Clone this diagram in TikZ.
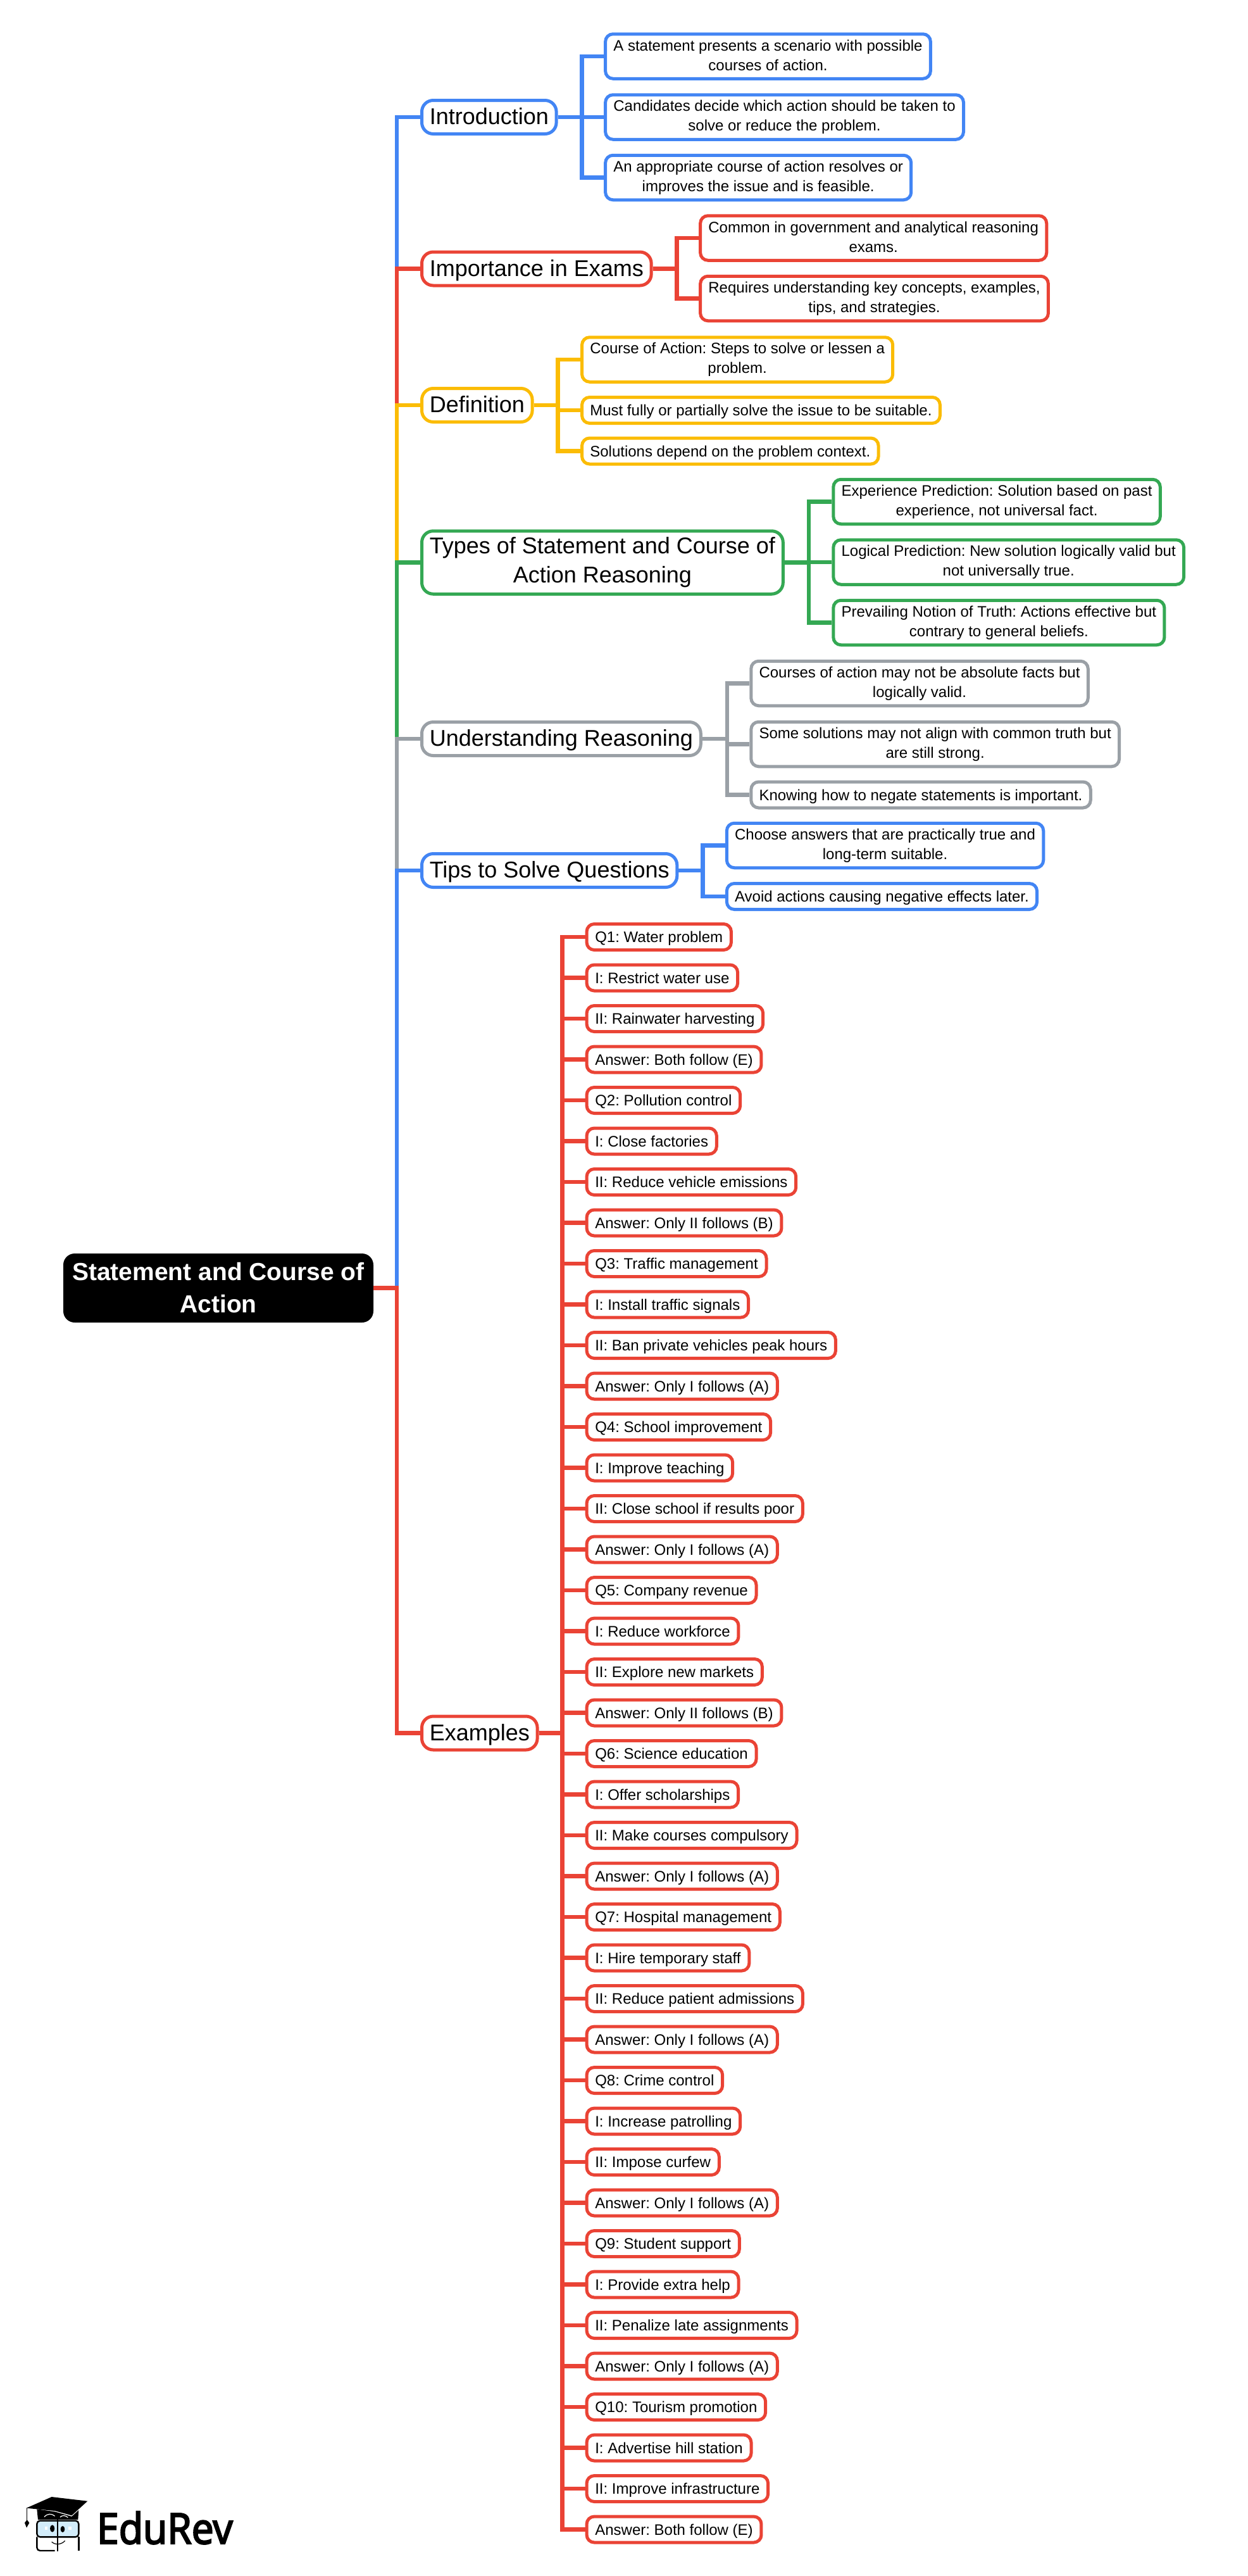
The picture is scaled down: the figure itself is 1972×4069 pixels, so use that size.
\documentclass[tikz,border=0pt]{standalone}
\usepackage{fontspec}
\setmainfont{Liberation Sans}
\newfontfamily\logofont{Open Sans}[FakeBold=3.5]
\usetikzlibrary{positioning}
\definecolor{gblue}{HTML}{4285F4}
\definecolor{gred}{HTML}{EA4335}
\definecolor{gyellow}{HTML}{FBBC05}
\definecolor{ggreen}{HTML}{34A853}
\definecolor{ggrey}{HTML}{9AA0A6}
\definecolor{lenscol}{HTML}{D2ECFA}
\frenchspacing

\begin{document}
\begin{tikzpicture}[
        rootbox/.style={rectangle, rounded corners=18pt, fill=black, text=white, minimum width=490pt, minimum height=109pt, inner xsep=0pt, inner ysep=0pt, outer sep=0pt, align=center, font=\fontsize{39}{51}\selectfont\bfseries},
        topic/.style={rectangle, rounded corners=18pt, draw=#1, line width=5pt, fill=white, text=black, minimum height=53pt, inner xsep=12.25pt, inner ysep=0pt, align=center, font=\fontsize{36}{46}\selectfont, execute at begin node={\rule{0pt}{31pt}}, execute at end node={\rule[-8pt]{0pt}{8pt}}},
        detail/.style={rectangle, rounded corners=12pt, draw=#1, line width=5pt, fill=white, text=black, minimum height=70.5pt, inner xsep=12.75pt, inner ysep=0pt, align=center, font=\fontsize{24}{31}\selectfont, execute at begin node={\rule{0pt}{22pt}}, execute at end node={\rule[-4.2pt]{0pt}{4.2pt}}},
        single/.style={detail=#1, minimum height=41pt, execute at begin node={\rule{0pt}{20.4pt}}, execute at end node={\rule[-5pt]{0pt}{5pt}}},
        item/.style={single=gred, inner xsep=13.25pt},
        stacked/.style={below=18.5pt of #1.south west, anchor=north west},
        link/.style={line width=6.5pt, draw=#1}
    ]
        \useasboundingbox (0,0) rectangle (1972pt,-4069pt);

        % Root
        \node (root) [rootbox] at (345pt,-2034.5pt) {Statement and Course of \\ Action};

        % Level 1: Topics
        \node (intro) [topic=gblue, right=74pt of root.east, yshift=1849.5pt] {Introduction};
        \node (exams) [topic=gred, right=74pt of root.east, yshift=1610pt] {Importance in Exams};
        \node (defn) [topic=gyellow, right=74pt of root.east, yshift=1394.5pt] {Definition};
        \node (types) [topic=ggreen, minimum height=99.5pt, right=74pt of root.east, yshift=1146pt] {Types of Statement and Course of \\ Action Reasoning};
        \node (reason) [topic=ggrey, right=74pt of root.east, yshift=867.5pt] {Understanding Reasoning};
        \node (tips) [topic=gblue, right=74pt of root.east, yshift=659.5pt] {Tips to Solve Questions};
        \node (examples) [topic=gred, right=74pt of root.east, yshift=-703pt] {Examples};

        % Level 2: Details
        \node (introa) [detail=gblue, right=72.5pt of intro.east, yshift=96pt] {A statement presents a scenario with possible \\ courses of action.};
        \node (introb) [detail=gblue, right=72.5pt of intro.east] {Candidates decide which action should be taken to \\ solve or reduce the problem.};
        \node (introc) [detail=gblue, right=72.5pt of intro.east, yshift=-95.5pt] {An appropriate course of action resolves or \\ improves the issue and is feasible.};

        \node (examsa) [detail=gred, right=72.5pt of exams.east, yshift=48.5pt] {Common in government and analytical reasoning \\ exams.};
        \node (examsb) [detail=gred, right=72.5pt of exams.east, yshift=-47pt] {Requires understanding key concepts, examples, \\ tips, and strategies.};

        \node (defna) [detail=gyellow, right=73.5pt of defn.east, yshift=72pt] {Course of Action: Steps to solve or lessen a \\ problem.};
        \node (defnb) [single=gyellow, right=73.5pt of defn.east, yshift=-8pt] {Must fully or partially solve the issue to be suitable.};
        \node (defnc) [single=gyellow, right=73.5pt of defn.east, yshift=-72.5pt] {Solutions depend on the problem context.};

        \node (typesa) [detail=ggreen, right=74.5pt of types.east, yshift=96pt] {Experience Prediction: Solution based on past \\ experience, not universal fact.};
        \node (typesb) [detail=ggreen, right=74.5pt of types.east, yshift=0.5pt] {Logical Prediction: New solution logically valid but \\ not universally true.};
        \node (typesc) [detail=ggreen, right=74.5pt of types.east, yshift=-95pt] {Prevailing Notion of Truth: Actions effective but \\ contrary to general beliefs.};

        \node (reasona) [detail=ggrey, right=74.5pt of reason.east, yshift=87.5pt] {Courses of action may not be absolute facts but \\ logically valid.};
        \node (reasonb) [detail=ggrey, right=74.5pt of reason.east, yshift=-8.5pt] {Some solutions may not align with common truth but \\ are still strong.};
        \node (reasonc) [single=ggrey, right=74.5pt of reason.east, yshift=-88.5pt] {Knowing how to negate statements is important.};

        \node (tipsa) [detail=gblue, right=73.5pt of tips.east, yshift=39.5pt] {Choose answers that are practically true and \\ long-term suitable.};
        \node (tipsb) [single=gblue, right=73.5pt of tips.east, yshift=-41pt] {Avoid actions causing negative effects later.};

        % Level 2: Example questions
        \node (qa) [item, right=73pt of examples.east, yshift=1257.5pt] {Q1: Water problem};
        \node (qai) [item, stacked=qa] {I: Restrict water use};
        \node (qaii) [item, stacked=qai] {II: Rainwater harvesting};
        \node (qaans) [item, stacked=qaii] {Answer: Both follow (E)};
        \node (qb) [item, stacked=qaans] {Q2: Pollution control};
        \node (qbi) [item, stacked=qb] {I: Close factories};
        \node (qbii) [item, stacked=qbi] {II: Reduce vehicle emissions};
        \node (qbans) [item, stacked=qbii] {Answer: Only II follows (B)};
        \node (qc) [item, stacked=qbans] {Q3: Traffic management};
        \node (qci) [item, stacked=qc] {I: Install traffic signals};
        \node (qcii) [item, stacked=qci] {II: Ban private vehicles peak hours};
        \node (qcans) [item, stacked=qcii] {Answer: Only I follows (A)};
        \node (qd) [item, stacked=qcans] {Q4: School improvement};
        \node (qdi) [item, stacked=qd] {I: Improve teaching};
        \node (qdii) [item, stacked=qdi] {II: Close school if results poor};
        \node (qdans) [item, stacked=qdii] {Answer: Only I follows (A)};
        \node (qe) [item, stacked=qdans] {Q5: Company revenue};
        \node (qei) [item, stacked=qe] {I: Reduce workforce};
        \node (qeii) [item, stacked=qei] {II: Explore new markets};
        \node (qeans) [item, stacked=qeii] {Answer: Only II follows (B)};
        \node (qf) [item, stacked=qeans] {Q6: Science education};
        \node (qfi) [item, stacked=qf] {I: Offer scholarships};
        \node (qfii) [item, stacked=qfi] {II: Make courses compulsory};
        \node (qfans) [item, stacked=qfii] {Answer: Only I follows (A)};
        \node (qg) [item, stacked=qfans] {Q7: Hospital management};
        \node (qgi) [item, stacked=qg] {I: Hire temporary staff};
        \node (qgii) [item, stacked=qgi] {II: Reduce patient admissions};
        \node (qgans) [item, stacked=qgii] {Answer: Only I follows (A)};
        \node (qh) [item, stacked=qgans] {Q8: Crime control};
        \node (qhi) [item, stacked=qh] {I: Increase patrolling};
        \node (qhii) [item, stacked=qhi] {II: Impose curfew};
        \node (qhans) [item, stacked=qhii] {Answer: Only I follows (A)};
        \node (qi) [item, stacked=qhans] {Q9: Student support};
        \node (qii) [item, stacked=qi] {I: Provide extra help};
        \node (qiii) [item, stacked=qii] {II: Penalize late assignments};
        \node (qians) [item, stacked=qiii] {Answer: Only I follows (A)};
        \node (qj) [item, stacked=qians] {Q10: Tourism promotion};
        \node (qji) [item, stacked=qj] {I: Advertise hill station};
        \node (qjii) [item, stacked=qji] {II: Improve infrastructure};
        \node (qjans) [item, stacked=qjii] {Answer: Both follow (E)};

        % Links from root to topics
        \draw [link=gblue] (root.east) -- ++(37pt,0) |- (intro.west);
        \draw [link=gred] (root.east) -- ++(37pt,0) |- (exams.west);
        \draw [link=gyellow] (root.east) -- ++(37pt,0) |- (defn.west);
        \draw [link=ggreen] (root.east) -- ++(37pt,0) |- (types.west);
        \draw [link=ggrey] (root.east) -- ++(37pt,0) |- (reason.west);
        \draw [link=gblue] (root.east) -- ++(37pt,0) |- (tips.west);
        \draw [link=gred] (root.east) -- ++(37pt,0) |- (examples.west);

        % Links from topics to details
        \draw [link=gblue] (intro.east) -- ++(38pt,0) |- (introa.west);
        \draw [link=gblue] (intro.east) -- (introb.west);
        \draw [link=gblue] (intro.east) -- ++(38pt,0) |- (introc.west);

        \draw [link=gred] (exams.east) -- ++(38pt,0) |- (examsa.west);
        \draw [link=gred] (exams.east) -- ++(38pt,0) |- (examsb.west);

        \draw [link=gyellow] (defn.east) -- ++(38pt,0) |- (defna.west);
        \draw [link=gyellow] (defn.east) -- ++(38pt,0) |- (defnb.west);
        \draw [link=gyellow] (defn.east) -- ++(38pt,0) |- (defnc.west);

        \draw [link=ggreen] (types.east) -- ++(38pt,0) |- (typesa.west);
        \draw [link=ggreen] (types.east) -- ++(38pt,0) |- (typesb.west);
        \draw [link=ggreen] (types.east) -- ++(38pt,0) |- (typesc.west);

        \draw [link=ggrey] (reason.east) -- ++(39pt,0) |- (reasona.west);
        \draw [link=ggrey] (reason.east) -- ++(39pt,0) |- (reasonb.west);
        \draw [link=ggrey] (reason.east) -- ++(39pt,0) |- (reasonc.west);

        \draw [link=gblue] (tips.east) -- ++(38pt,0) |- (tipsa.west);
        \draw [link=gblue] (tips.east) -- ++(38pt,0) |- (tipsb.west);

        % Links from examples to questions
        \draw [link=gred] (examples.east) -- ++(37pt,0) |- (qa.west);
        \draw [link=gred] (examples.east) -- ++(37pt,0) |- (qai.west);
        \draw [link=gred] (examples.east) -- ++(37pt,0) |- (qaii.west);
        \draw [link=gred] (examples.east) -- ++(37pt,0) |- (qaans.west);
        \draw [link=gred] (examples.east) -- ++(37pt,0) |- (qb.west);
        \draw [link=gred] (examples.east) -- ++(37pt,0) |- (qbi.west);
        \draw [link=gred] (examples.east) -- ++(37pt,0) |- (qbii.west);
        \draw [link=gred] (examples.east) -- ++(37pt,0) |- (qbans.west);
        \draw [link=gred] (examples.east) -- ++(37pt,0) |- (qc.west);
        \draw [link=gred] (examples.east) -- ++(37pt,0) |- (qci.west);
        \draw [link=gred] (examples.east) -- ++(37pt,0) |- (qcii.west);
        \draw [link=gred] (examples.east) -- ++(37pt,0) |- (qcans.west);
        \draw [link=gred] (examples.east) -- ++(37pt,0) |- (qd.west);
        \draw [link=gred] (examples.east) -- ++(37pt,0) |- (qdi.west);
        \draw [link=gred] (examples.east) -- ++(37pt,0) |- (qdii.west);
        \draw [link=gred] (examples.east) -- ++(37pt,0) |- (qdans.west);
        \draw [link=gred] (examples.east) -- ++(37pt,0) |- (qe.west);
        \draw [link=gred] (examples.east) -- ++(37pt,0) |- (qei.west);
        \draw [link=gred] (examples.east) -- ++(37pt,0) |- (qeii.west);
        \draw [link=gred] (examples.east) -- ++(37pt,0) |- (qeans.west);
        \draw [link=gred] (examples.east) -- ++(37pt,0) |- (qf.west);
        \draw [link=gred] (examples.east) -- ++(37pt,0) |- (qfi.west);
        \draw [link=gred] (examples.east) -- ++(37pt,0) |- (qfii.west);
        \draw [link=gred] (examples.east) -- ++(37pt,0) |- (qfans.west);
        \draw [link=gred] (examples.east) -- ++(37pt,0) |- (qg.west);
        \draw [link=gred] (examples.east) -- ++(37pt,0) |- (qgi.west);
        \draw [link=gred] (examples.east) -- ++(37pt,0) |- (qgii.west);
        \draw [link=gred] (examples.east) -- ++(37pt,0) |- (qgans.west);
        \draw [link=gred] (examples.east) -- ++(37pt,0) |- (qh.west);
        \draw [link=gred] (examples.east) -- ++(37pt,0) |- (qhi.west);
        \draw [link=gred] (examples.east) -- ++(37pt,0) |- (qhii.west);
        \draw [link=gred] (examples.east) -- ++(37pt,0) |- (qhans.west);
        \draw [link=gred] (examples.east) -- ++(37pt,0) |- (qi.west);
        \draw [link=gred] (examples.east) -- ++(37pt,0) |- (qii.west);
        \draw [link=gred] (examples.east) -- ++(37pt,0) |- (qiii.west);
        \draw [link=gred] (examples.east) -- ++(37pt,0) |- (qians.west);
        \draw [link=gred] (examples.east) -- ++(37pt,0) |- (qj.west);
        \draw [link=gred] (examples.east) -- ++(37pt,0) |- (qji.west);
        \draw [link=gred] (examples.east) -- ++(37pt,0) |- (qjii.west);
        \draw [link=gred] (examples.east) -- ++(37pt,0) |- (qjans.west);

        % Logo
        \node (logotext) [anchor=base west, inner sep=0pt, transform shape, xscale=0.93, font=\fontsize{67}{67}\selectfont\logofont] at (153pt,-4018pt) {EduRev};
        \begin{scope}[shift={(30pt,-3930pt)}, x=0.3333pt, y=-0.3333pt]
            \fill (35,95) -- (155,42) -- (325,62) -- (250,130) -- (170,108) -- (85,100) -- cycle;
            \fill (85,100) -- (90,150) -- (280,150) -- (283,105) -- (250,135) -- (170,112) -- cycle;
            \draw [white, line width=1.2pt] (120,137) .. controls (135,120) and (155,120) .. (170,133);
            \draw [white, line width=1.2pt] (195,138) .. controls (205,128) and (220,128) .. (232,140);
            \draw [line width=1.4pt] (38,95) -- (38,155);
            \fill (38,150) -- (27,165) -- (36,188) -- (49,165) -- cycle;
            \draw [line width=2.4pt, fill=lenscol, rounded corners=5pt] (85,155) rectangle (283,232);
            \draw [line width=2.4pt, rounded corners=5pt] (85,232) -- (85,297) -- (170,297);
            \draw [line width=2.4pt, rounded corners=5pt] (283,232) -- (283,297);
            \draw [line width=1.6pt] (183,145) -- (183,300);
            \fill (158,192) ellipse (11 and 17);
            \fill (207,195) ellipse (10 and 15);
            \fill [white] (122,184) rectangle (136,197);
            \fill [white] (234,184) rectangle (248,197);
            \draw [line width=1.2pt] (155,255) .. controls (170,270) and (200,270) .. (218,250);
        \end{scope}

\end{tikzpicture}
\end{document}
